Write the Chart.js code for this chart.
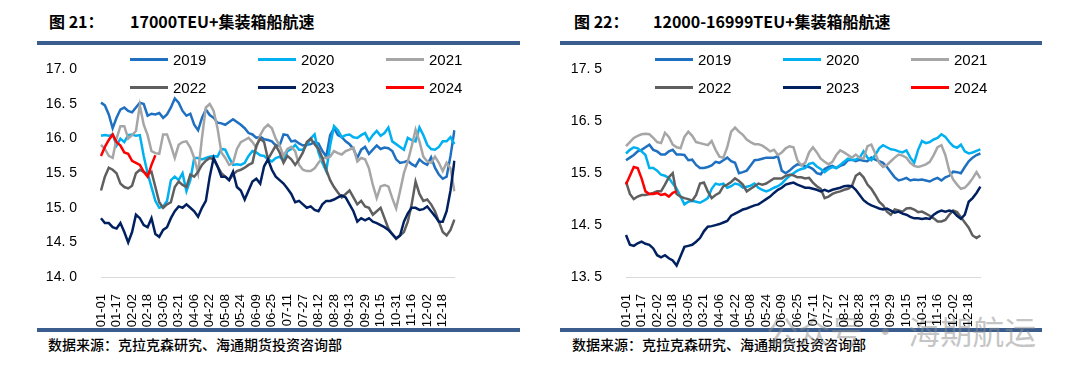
<!DOCTYPE html>
<html>
<head>
<meta charset="utf-8">
<script src="https://cdn.jsdelivr.net/npm/chart.js@4.4.1/dist/chart.umd.min.js"></script>
<style>
  body { margin: 0; width: 1080px; height: 373px; background: #fff; position: relative; overflow: hidden; }
  .title { position: absolute; top: 9px; font: bold 16px "Noto Sans CJK SC", sans-serif; color: #000; white-space: nowrap; }
  .title span { position: absolute; top: 0; }
  .rule { position: absolute; height: 4px; background: #3A5D8D; }
  .src { position: absolute; top: 334px; font: 500 14px "Noto Sans CJK SC", sans-serif; color: #000; white-space: nowrap; }
  .box { position: absolute; }
  .item { position: absolute; display: flex; align-items: center; font: 15px "Liberation Sans", Arial, sans-serif; color: #000; height: 18px; }
  .swatch { display: inline-block; width: 38px; height: 3px; margin-right: 5px; }
  .wm { position: absolute; left: 766px; top: 307px; font: 32px "Noto Sans CJK SC", sans-serif; color: rgba(140,140,140,0.5); white-space: nowrap; }
</style>
</head>
<body>

<div class="title" style="left:49px">图 21：<span style="left:81px">17000TEU+集装箱船航速</span></div>
<div class="title" style="left:574px">图 22：<span style="left:79px">12000-16999TEU+集装箱船航速</span></div>
<div class="rule" style="left:37px;width:483px;top:41px"></div>
<div class="rule" style="left:560px;width:482px;top:41px"></div>
<div class="rule" style="left:37px;width:483px;top:328px"></div>
<div class="rule" style="left:560px;width:482px;top:328px"></div>
<div class="src" style="left:48px">数据来源：克拉克森研究、海通期货投资咨询部</div>
<div class="src" style="left:572px">数据来源：克拉克森研究、海通期货投资咨询部</div>
<div class="wm">公众号 · 海期航运</div>

<div class="box" style="left:40px;top:45px;width:439px;height:288px"><canvas id="chartLeft"></canvas></div>
<div class="box" style="left:560px;top:45px;width:445px;height:288px"><canvas id="chartRight"></canvas></div>

<script>
// categories: every 4th day of a leap year, ticks shown every 16 days
function mmdd(d) {
	const dt = new Date(Date.UTC(2024, 0, 1 + d));
	return String(dt.getUTCMonth() + 1).padStart(2, '0') + '-' + String(dt.getUTCDate()).padStart(2, '0');
}
const categories = [];
for (let d = 0; d < 366; d += 4) categories.push(mmdd(d));

const years = ['2019', '2020', '2021', '2022', '2023', '2024'];
const colors = ['#1F70C1', '#00B0F0', '#A6A6A6', '#5F5F5F', '#002060', '#FF0000'];

// 17000TEU+ (knots)
const big2019 = [16.52, 16.48, 16.35, 16.15, 16.30, 16.42, 16.45, 16.40, 16.38, 16.45,
	16.52, 16.50, 16.33, 16.36, 16.35, 16.37, 16.30, 16.35, 16.45, 16.58,
	16.52, 16.40, 16.33, 16.36, 16.20, 16.12, 16.30, 16.42, 16.34, 16.30,
	16.23, 16.22, 16.20, 16.24, 16.28, 16.24, 16.20, 16.15, 16.08, 16.06,
	16.01, 16.03, 15.99, 15.98, 15.96, 15.90, 15.90, 16.06, 16.05, 15.96,
	15.97, 15.93, 15.90, 15.91, 15.92, 15.95, 15.93, 15.82, 15.74, 16.05,
	16.15, 16.05, 16.02, 15.96, 15.92, 15.85, 15.72, 15.84, 15.88, 15.78,
	15.84, 15.90, 15.85, 15.87, 15.86, 15.82, 15.70, 15.65, 15.66, 15.68,
	15.63, 15.60, 15.70, 15.65, 15.62, 15.73, 15.58, 15.48, 15.42, 15.45,
	15.75, 16.12];
const big2020 = [16.04, 16.05, 16.04, 16.06, 15.90, 16.00, 15.95, 16.05, 16.06, 16.04,
	16.05, 15.75, 15.50, 15.30, 15.10, 15.00, 15.02, 15.10, 15.40, 15.45,
	15.40, 15.50, 15.24, 15.40, 15.72, 15.72, 15.70, 15.72, 15.74, 15.75,
	15.74, 15.85, 15.84, 15.72, 15.62, 15.63, 15.62, 15.65, 15.75, 15.82,
	15.80, 15.76, 15.75, 15.70, 15.67, 15.72, 15.74, 15.68, 15.82, 15.85,
	15.91, 15.84, 15.84, 15.91, 16.00, 16.06, 15.80, 15.65, 15.53, 15.90,
	16.18, 16.12, 16.02, 16.05, 16.06, 16.02, 16.01, 16.05, 16.08, 15.97,
	16.05, 16.11, 16.04, 16.08, 16.16, 15.96, 15.92, 15.88, 15.84, 16.01,
	15.98, 15.96, 16.16, 16.05, 15.91, 15.85, 15.84, 15.88, 15.96, 15.96,
	16.02, 15.92];
const big2021 = [15.91, 15.85, 15.75, 15.72, 16.00, 16.18, 16.18, 16.00, 16.05, 16.11,
	16.48, 16.20, 16.05, 15.82, 15.79, 15.78, 16.06, 16.06, 15.90, 15.72,
	15.91, 15.95, 15.96, 15.87, 15.72, 15.50, 16.01, 16.45, 16.50, 16.40,
	16.15, 15.80, 15.72, 15.62, 15.65, 15.85, 15.95, 15.98, 16.01, 15.95,
	15.87, 16.05, 16.15, 16.20, 16.15, 16.00, 15.90, 15.75, 15.85, 15.88,
	15.82, 15.62, 15.55, 15.53, 15.53, 15.57, 15.65, 15.72, 15.72, 15.74,
	15.82, 15.79, 15.77, 15.82, 15.84, 15.87, 15.67, 15.72, 15.70, 15.57,
	15.33, 15.14, 15.31, 15.33, 15.31, 15.14, 14.99, 15.24, 15.50, 15.67,
	15.89, 16.13, 15.96, 15.74, 15.67, 15.65, 15.74, 15.65, 15.53, 15.65,
	15.57, 15.24];
const big2022 = [15.25, 15.45, 15.58, 15.55, 15.50, 15.35, 15.30, 15.28, 15.32, 15.50,
	15.55, 15.52, 15.48, 15.52, 15.30, 15.08, 15.00, 15.05, 15.08, 15.30,
	15.38, 15.33, 15.30, 15.48, 15.45, 15.52, 15.62, 15.68, 15.72, 15.70,
	15.60, 15.50, 15.45, 15.40, 15.48, 15.53, 15.55, 15.58, 15.62, 15.65,
	15.90, 16.00, 15.95, 15.70, 15.80, 15.90, 15.80, 15.65, 15.75, 15.70,
	15.62, 15.70, 15.80, 15.95, 16.00, 15.92, 15.85, 15.72, 15.55, 15.40,
	15.30, 15.22, 15.15, 15.20, 15.25, 15.15, 15.05, 15.10, 15.02, 15.00,
	14.90, 14.95, 15.00, 14.85, 14.70, 14.62, 14.55, 14.60, 14.65, 14.80,
	15.05, 15.38, 15.20, 15.10, 15.12, 15.05, 14.95, 14.80, 14.65, 14.60,
	14.68, 14.83];
const big2023 = [14.85, 14.78, 14.78, 14.72, 14.70, 14.78, 14.65, 14.50, 14.65, 14.90,
	14.85, 14.75, 14.72, 14.85, 14.62, 14.58, 14.68, 14.72, 14.85, 14.95,
	15.02, 15.00, 15.05, 15.00, 14.95, 14.87, 15.00, 15.10, 15.45, 15.72,
	15.60, 15.45, 15.45, 15.40, 15.52, 15.30, 15.25, 15.12, 15.25, 15.38,
	15.42, 15.35, 15.60, 15.70, 15.55, 15.45, 15.40, 15.35, 15.28, 15.20,
	15.08, 15.10, 15.05, 15.00, 15.02, 14.97, 14.95, 15.05, 15.10, 15.10,
	15.12, 15.15, 15.18, 15.15, 15.05, 14.95, 14.80, 14.85, 14.82, 14.85,
	14.80, 14.78, 14.75, 14.72, 14.68, 14.62, 14.56, 14.60, 14.80, 14.92,
	15.00, 15.00, 14.97, 14.98, 15.02, 14.95, 14.88, 14.80, 14.80, 14.95,
	15.25, 15.68];
const big2024 = [15.75, 15.88, 15.98, 16.06, 15.95, 15.90, 15.80, 15.78, 15.68, 15.65,
	15.62, 15.52, 15.45, 15.62, 15.76];

// 12000-16999TEU (knots)
const mid2019 = [15.75, 15.80, 15.85, 15.92, 15.95, 16.00, 16.05, 15.95, 15.92, 15.86,
	15.86, 15.92, 15.95, 15.86, 15.86, 15.85, 15.75, 15.76, 15.66, 15.60,
	15.60, 15.62, 15.65, 15.72, 15.70, 15.75, 15.80, 15.73, 15.70, 15.50,
	15.52, 15.55, 15.65, 15.75, 15.76, 15.78, 15.80, 15.80, 15.80, 15.83,
	15.55, 15.50, 15.55, 15.62, 15.67, 15.66, 15.64, 15.62, 15.58, 15.50,
	15.48, 15.58, 15.62, 15.64, 15.60, 15.64, 15.67, 15.75, 15.76, 15.73,
	15.76, 15.74, 15.73, 15.80, 15.76, 15.73, 15.70, 15.62, 15.52, 15.42,
	15.36, 15.38, 15.41, 15.36, 15.38, 15.37, 15.38, 15.36, 15.34, 15.38,
	15.41, 15.36, 15.42, 15.45, 15.53, 15.52, 15.50, 15.62, 15.73, 15.80,
	15.85, 15.88];
const mid2020 = [15.88, 15.95, 16.00, 15.98, 15.92, 15.85, 15.60, 15.60, 15.55, 15.47,
	15.45, 15.41, 15.30, 15.20, 15.05, 14.90, 14.95, 14.97, 14.95, 14.93,
	14.97, 15.02, 15.20, 15.30, 15.28, 15.30, 15.22, 15.25, 15.30, 15.28,
	15.22, 15.24, 15.26, 15.30, 15.22, 15.18, 15.15, 15.18, 15.22, 15.25,
	15.30, 15.38, 15.45, 15.50, 15.55, 15.58, 15.60, 15.68, 15.70, 15.63,
	15.58, 15.52, 15.58, 15.62, 15.60, 15.66, 15.72, 15.78, 15.76, 15.76,
	15.80, 15.92, 15.80, 15.75, 15.85, 15.98, 16.04, 16.00, 15.96, 15.95,
	15.92, 15.90, 15.94, 15.80, 15.70, 15.95, 16.12, 16.08, 16.10, 16.15,
	16.18, 16.25, 16.20, 16.10, 16.02, 15.99, 16.05, 15.92, 15.88, 15.90,
	15.93, 15.96];
const mid2021 = [16.02, 16.10, 16.18, 16.22, 16.25, 16.26, 16.25, 16.18, 16.10, 16.08,
	16.28, 16.20, 16.05, 16.00, 15.98, 16.20, 16.30, 16.22, 16.10, 16.08,
	16.06, 16.04, 16.12, 15.95, 15.82, 15.80, 16.00, 16.30, 16.38, 16.30,
	16.24, 16.15, 16.10, 16.06, 16.06, 16.03, 15.98, 15.92, 15.95, 15.85,
	15.90, 15.98, 16.02, 16.00, 15.75, 15.65, 15.70, 15.90, 16.00, 15.90,
	15.78, 15.72, 15.67, 15.72, 15.85, 15.94, 15.90, 15.85, 15.80, 15.86,
	15.80, 15.78, 16.02, 16.05, 15.88, 15.70, 15.62, 15.66, 15.73, 15.80,
	15.86, 15.84, 15.80, 15.70, 15.64, 15.62, 15.64, 15.67, 15.72, 15.85,
	16.00, 16.04, 15.85, 15.55, 15.38, 15.28, 15.20, 15.22, 15.30, 15.40,
	15.52, 15.40];
const mid2022 = [15.34, 15.10, 15.00, 15.05, 15.08, 15.08, 15.10, 15.12, 15.15, 15.15,
	15.28, 15.42, 15.50, 15.10, 15.05, 15.02, 15.00, 14.97, 15.08, 15.30,
	15.32, 15.15, 15.02, 15.08, 15.12, 15.25, 15.28, 15.33, 15.40, 15.35,
	15.28, 15.15, 15.20, 15.25, 15.30, 15.28, 15.30, 15.35, 15.40, 15.40,
	15.40, 15.45, 15.47, 15.46, 15.42, 15.42, 15.40, 15.41, 15.32, 15.25,
	15.20, 15.02, 15.05, 15.10, 15.13, 15.15, 15.18, 15.20, 15.25, 15.45,
	15.50, 15.42, 15.28, 15.20, 15.08, 14.95, 14.88, 14.76, 14.70, 14.80,
	14.78, 14.76, 14.82, 14.83, 14.80, 14.75, 14.76, 14.72, 14.68, 14.63,
	14.57, 14.57, 14.60, 14.70, 14.78, 14.75, 14.65, 14.55, 14.45, 14.30,
	14.25, 14.30];
const mid2023 = [14.31, 14.12, 14.10, 14.15, 14.18, 14.14, 14.12, 14.05, 13.92, 13.88,
	13.92, 13.86, 13.82, 13.72, 13.90, 14.08, 14.10, 14.12, 14.18, 14.25,
	14.38, 14.47, 14.48, 14.50, 14.52, 14.55, 14.58, 14.68, 14.72, 14.76,
	14.80, 14.82, 14.85, 14.88, 14.90, 14.95, 15.00, 15.05, 15.12, 15.18,
	15.22, 15.28, 15.30, 15.32, 15.28, 15.25, 15.22, 15.22, 15.20, 15.18,
	15.15, 15.18, 15.15, 15.18, 15.20, 15.22, 15.25, 15.26, 15.25, 15.18,
	15.08, 14.98, 14.92, 14.88, 14.85, 14.82, 14.80, 14.82, 14.78, 14.74,
	14.76, 14.72, 14.70, 14.66, 14.63, 14.63, 14.62, 14.63, 14.62, 14.70,
	14.75, 14.78, 14.76, 14.78, 14.76, 14.68, 14.62, 14.70, 14.95, 15.02,
	15.12, 15.24];
const mid2024 = [15.28, 15.45, 15.62, 15.60, 15.40, 15.15, 15.10, 15.10, 15.12, 15.08,
	15.10, 15.05, 15.12, 15.15];

const bigSeries = [big2019, big2020, big2021, big2022, big2023, big2024];
const midSeries = [mid2019, mid2020, mid2021, mid2022, mid2023, mid2024];

function makeDatasets(series) {
	return series.map((values, i) => ({
		label: years[i],
		data: values,
		borderColor: colors[i],
		backgroundColor: colors[i],
		borderWidth: 2.5,
		pointRadius: 0,
		tension: 0,
		fill: false,
		order: years.length - i,
	}));
}

const tickFont = { family: 'Liberation Sans', size: 13 };
const yFont = { family: 'Liberation Sans', size: 14 };

function makeChart(canvasId, series, yMin, yMax, yStep, yWidth) {
	return new Chart(document.getElementById(canvasId), {
		type: 'line',
		data: { labels: categories, datasets: makeDatasets(series) },
		options: {
			responsive: true,
			maintainAspectRatio: false,
			animation: false,
			layout: { padding: { right: 4 } },
			plugins: { legend: { display: false }, tooltip: { enabled: false } },
			scales: {
				x: {
					grid: { display: false },
					border: { display: true, color: '#D9D9D9', width: 1 },
					ticks: {
						autoSkip: false,
						maxRotation: 90,
						minRotation: 90,
						padding: 9,
						color: '#000',
						font: tickFont,
						callback: (v, i) => (i % 4 === 0 ? categories[i] : ''),
					},
					afterFit: (scale) => { scale.height = 56; },
				},
				y: {
					min: yMin,
					max: yMax,
					grid: { display: false },
					border: { display: false },
					ticks: {
						stepSize: yStep,
						padding: 16,
						color: '#000',
						font: yFont,
						callback: (v) => v.toFixed(1).replace('.', '. '),
					},
					afterFit: (scale) => { scale.width = yWidth; },
				},
			},
		},
	});
}

const leftChart = makeChart('chartLeft', bigSeries, 14, 17, 0.5, 61);
const rightChart = makeChart('chartRight', midSeries, 13.5, 17.5, 1, 66);

// legend in three columns, built from the chart datasets
function buildLegend(chart, x0) {
	chart.data.datasets.forEach((ds, i) => {
		const item = document.createElement('div');
		item.className = 'item';
		item.style.left = (x0 + (i % 3) * 128) + 'px';
		item.style.top = (i < 3 ? 50 : 78) + 'px';
		item.innerHTML = '<span class="swatch" style="background:' + ds.borderColor + '"></span>' + ds.label;
		document.body.appendChild(item);
	});
}
buildLegend(leftChart, 130);
buildLegend(rightChart, 655);
</script>
</body>
</html>
